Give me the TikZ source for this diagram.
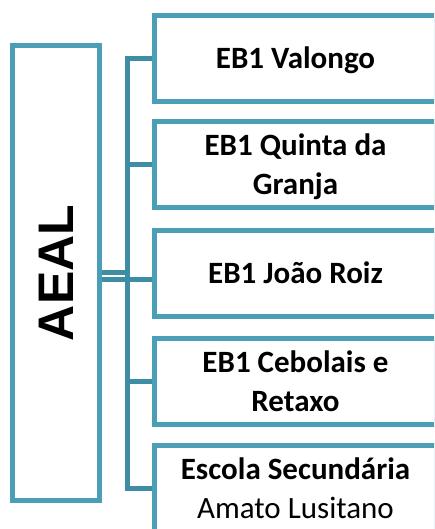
\documentclass[tikz,border=0pt]{standalone}
\usepackage{fontspec}
\setmainfont{Carlito}
\newfontfamily\aealfont{Liberation Sans}
\definecolor{boxline}{HTML}{4A9EB5}
\definecolor{connline}{HTML}{3F8DA2}
\begin{document}
\begin{tikzpicture}[x=1pt,y=1pt,
  schoolbox/.style={draw=boxline, line width=5pt, fill=white, rectangle,
    minimum width=282pt, minimum height=86pt, inner sep=0pt, align=center,
    font=\fontsize{31pt}{39pt}\selectfont\bfseries, text depth=1pt},
  mainbox/.style={draw=boxline, line width=5pt, fill=white, rectangle,
    minimum width=87pt, minimum height=455pt, inner sep=0pt,
    font=\aealfont\fontsize{50pt}{60pt}\selectfont\bfseries},
  conn/.style={draw=connline, line width=5pt, line join=miter}]
\useasboundingbox (0,0) rectangle (434,529);
\begin{scope}
\clip (0,0) rectangle (434,529);
\node[mainbox] (aeal) at (56,256) {\rotatebox{90}{AEAL}};
\node[schoolbox] (b1) at (295.5,470.5) {EB1 Valongo};
\node[schoolbox] (b2) at (295.5,364.5) {EB1 Quinta da\\Granja};
\node[schoolbox] (b3) at (295.5,255.5) {EB1 João Roiz};
\node[schoolbox] (b4) at (295.5,147.5) {EB1 Cebolais e\\Retaxo};
\node[schoolbox] (b5) at (295.5,40.5) {Escola Secundária\\{\mdseries Amato Lusitano}};
\coordinate (busx) at (127,0);
\draw[conn] (b1.west) -- (b1.west -| busx) -- (b5.west -| busx) -- (b5.west);
\draw[conn] (b2.west -| busx) -- (b2.west);
\draw[conn] (b4.west -| busx) -- (b4.west);
\draw[conn] (aeal.east) -- (aeal.east -| busx);
\draw[conn] ([yshift=-6.5pt]b3.west -| aeal.east) -- ([yshift=-6.5pt]b3.west);
\end{scope}
\end{tikzpicture}
\end{document}
